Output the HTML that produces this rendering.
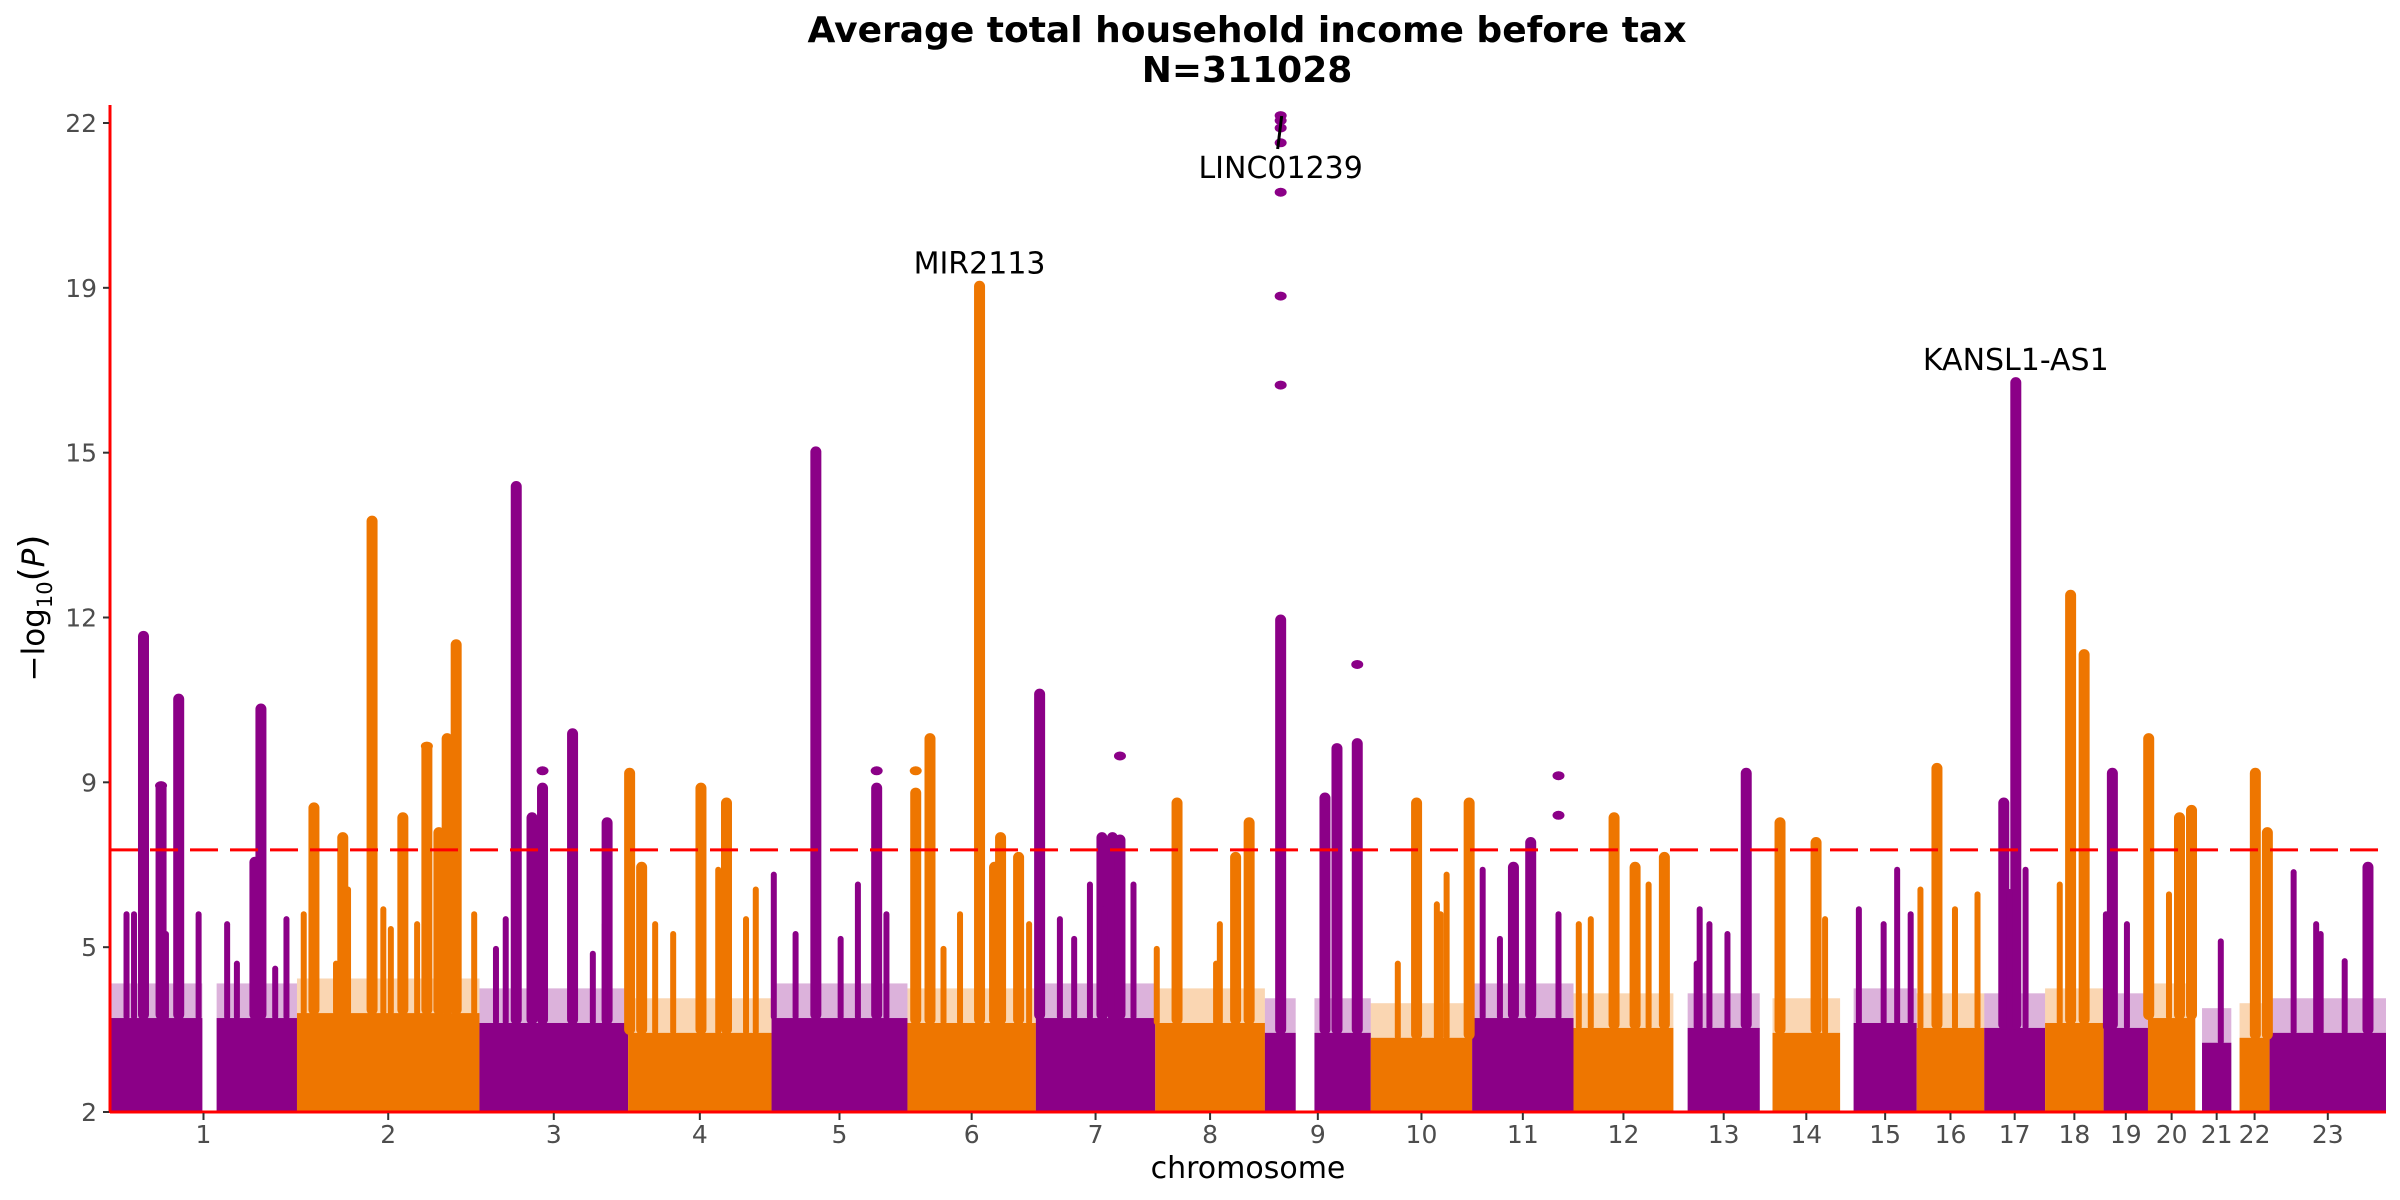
<!DOCTYPE html>
<html><head><meta charset="utf-8"><title>Manhattan plot</title>
<style>
html,body{margin:0;padding:0;background:#fff;}
svg{display:block;font-family:"DejaVu Sans","Liberation Sans",sans-serif;}
</style></head>
<body>
<svg id="chart" width="2400" height="1200" viewBox="0 0 2400 1200" xmlns="http://www.w3.org/2000/svg">
<text x="1247" y="42" text-anchor="middle" font-size="36" font-weight="bold" fill="#000">Average total household income before tax</text>
<text x="1247" y="82" text-anchor="middle" font-size="36" font-weight="bold" fill="#000">N=311028</text>
<g id="band-layer"></g>
<g id="peak-layer"></g>
<g id="dot-layer"></g>
<g id="axis-layer"></g>
<g id="label-layer"></g>
<text x="1248" y="1178" text-anchor="middle" font-size="30" fill="#000">chromosome</text>
<text transform="translate(44,608) rotate(-90)" text-anchor="middle" font-size="31" fill="#000">−log<tspan font-size="21" dy="8">10</tspan><tspan dy="-8" font-size="36">(</tspan><tspan font-style="italic">P</tspan><tspan font-size="36">)</tspan></text>
</svg>
<script>
const chromNames = ['1','2','3','4','5','6','7','8','9','10','11','12','13','14','15','16','17','18','19','20','21','22','23'];
const chromLengths = [249,243,198,191,181,171,159,146,141,135,135,133,115,107,102,90,81,78,59,63,48,51,155];
const bandHeights = [3.9,4.0,3.8,3.6,3.9,3.8,3.9,3.8,3.6,3.5,3.9,3.7,3.7,3.6,3.8,3.7,3.7,3.8,3.7,3.9,3.4,3.5,3.6];
const gapChrom = [1,9,13,14,15,21,22];
const gapStart = [123,41,0,0,0,0,0];
const gapEnd = [142,66,19,17,18,9,11];
const peakChrom = [1,1,1,1,1,1, 1,1,1,1,1,1,1,
 2,2,2,2,2,2,2,2,2, 2,2,2,2,2,2,
 3,3,3,3,3, 3,3,3,3,
 4,4,4,4,4, 4,4,4,4,
 5,5,5, 5,5,5,5,
 6,6,6,6,6, 6,6,6,6,
 7,7,7,7,7, 7,7,7,7,
 8,8,8, 8,8,8,8,
 9,9,9,9,
 10,10,10, 10,10,10,
 11,11,11,11, 11,
 12,12,12,12, 12,12,
 13,13,13, 13,13,
 14,14, 14,
 15,15,15, 15,
 16,16,16, 16,
 17,17, 17,17,
 18,18, 18,
 19, 19,19,
 20,20,20, 20,
 21,
 22,22,
 23,23,23, 23,23];
const peakPos = [44.6,68,91.5,201,193,118, 22,32,74.5,156,169,235,220,
 22.6,61,100,141,173,189,200,212,236, 9,52,68,115,125,160,
 49,70,84,124,170, 22,35,167,151,
 2,18,97,131,170, 36,60,120,157,
 59,140,115, 3,32,92,153,
 11,30,96,116,124, 48,70,148,162,
 5,88,102,112,130, 32,51,72,91,
 29,107,125, 2,81,86,127,
 21,80,96,123,
 61,88,131, 36,101,93,
 14,55,78,115, 37,
 54,82,100,121, 23,7,
 35,48,97, 72,31,
 27,75, 87,
 25,58,76, 94,
 27,51,81, 5,
 42,26, 55,34,
 34,52, 19.5,
 11.6, 3,31,
 1,42,58, 28,
 34,
 32,48,
 32,100,131, 62,68];
const peakTop = [11.67,8.6,10.4,10.2,7.1,6.0, 6.0,6.0,5.6,5.8,5.0,5.9,4.9,
 8.2,7.6,14.0,8.0,9.4,7.7,9.6,11.5,6.0, 6.0,5.0,6.5,6.1,5.7,5.8,
 14.7,8.0,8.6,9.7,7.9, 5.3,5.9,5.8,5.2,
 8.9,7.0,8.6,8.3,6.5, 5.8,5.6,6.9,5.9,
 15.4,8.6,6.6, 6.8,5.6,5.5,6.0,
 8.5,9.6,18.75,7.0,7.6, 5.3,6.0,7.2,5.8,
 10.5,7.6,7.6,7.55,6.6, 5.9,5.5,6.6,6.1,
 8.3,7.2,7.9, 5.3,5.0,5.8,6.0,
 12.0,8.4,9.4,9.5,
 8.3,6.2,8.3, 5.0,6.8,6.0,
 6.9,7.0,7.5,6.0, 5.5,
 8.0,7.0,6.6,7.2, 5.9,5.8,
 6.1,5.8,8.9, 5.6,5.0,
 7.9,7.5, 5.9,
 6.1,5.8,6.9, 6.0,
 9.0,6.1,6.4, 6.5,
 16.8,8.3, 6.9,6.45,
 12.5,11.3, 6.6,
 8.9, 6.0,5.8,
 9.6,8.0,8.15, 6.4,
 5.45,
 8.9,7.7,
 6.85,5.05,7.0, 5.8,5.6];
const dotChrom = [9,9,9,9,9,9,9, 3,5,6,7,9,11,11,1,2];
const dotPos = [21,21,21,21,21,21,21, 84,140,11,112,123,115,115,68,173];
const dotValues = [16.7,18.5,20.6,21.6,21.9,22.05,22.15, 8.9,8.9,8.9,9.2,11.05,8.8,8.0,8.6,9.4];
const labelGenes = ['MIR2113','LINC01239','KANSL1-AS1'];
const labelChrom = [6,9,17];
const labelPos = [96,21,42];
const labelTop = [18.75,22.1,16.8];
const tickValues = [2,5.333,8.667,12,15.333,18.667,22];
const tickLabels = ['2','5','9','12','15','19','22'];
const threshold = 7.3;

const NS = 'http://www.w3.org/2000/svg';
const X0 = 110, X1 = 2386, Y0 = 1112, YMIN = 2, YMAX = 22, YTOP = 123;
const totalLen = chromLengths.reduce((a,b)=>a+b,0);
const cumStart = [];
let acc = 0;
for (const L of chromLengths) { cumStart.push(acc); acc += L; }
function xScale(chrIdx, pos) { return X0 + (cumStart[chrIdx] + pos) * (X1 - X0) / totalLen; }
function yScale(v) { return Y0 - (v - YMIN) * (Y0 - YTOP) / (YMAX - YMIN); }
function colorFor(chrIdx) { return chrIdx % 2 === 0 ? '#8B0087' : '#EE7600'; }
function mk(tag, attrs, parent) {
  const el = document.createElementNS(NS, tag);
  for (const k in attrs) el.setAttribute(k, attrs[k]);
  parent.appendChild(el);
  return el;
}
function segmentsFor(i) {
  let segs = [[0, chromLengths[i]]];
  gapChrom.forEach((c, g) => {
    if (c - 1 !== i) return;
    const ns = [];
    segs.forEach(s => {
      if (gapEnd[g] <= s[0] || gapStart[g] >= s[1]) { ns.push(s); return; }
      if (gapStart[g] > s[0]) ns.push([s[0], gapStart[g]]);
      if (gapEnd[g] < s[1]) ns.push([gapEnd[g], s[1]]);
    });
    segs = ns;
  });
  return segs;
}

const bandLayer = document.getElementById('band-layer');
chromNames.forEach((name, i) => {
  const segs = segmentsFor(i);
  segs.forEach(s => {
    const xa = xScale(i, s[0]), xb = xScale(i, s[1]);
    const f = mk('rect', {x: xa, y: yScale(bandHeights[i] + 0.7), width: Math.max(0, xb - xa), height: Y0 - yScale(bandHeights[i] + 0.7), fill: colorFor(i), opacity: 0.3}, bandLayer);
    
    
    const r = mk('rect', {x: xa, y: yScale(bandHeights[i]), width: Math.max(0, xb - xa), height: Y0 - yScale(bandHeights[i]), fill: colorFor(i)}, bandLayer);
    
    
  });
});

const peakLayer = document.getElementById('peak-layer');
peakChrom.forEach((c, k) => {
  const i = c - 1;
  const top = peakTop[k];
  const major = top >= 7;
  const w = major ? 11 : 6;
  const cx = xScale(i, peakPos[k]);
  const yt = yScale(top) - 3;
  const yb = yScale(bandHeights[i]) + 2;
  const r = mk('rect', {x: cx - w / 2, y: yt, width: w, height: Math.max(0, yb - yt), rx: w / 2, fill: colorFor(i)}, peakLayer);
  
  
});

const dotLayer = document.getElementById('dot-layer');
dotChrom.forEach((c, k) => {
  const i = c - 1;
  const d = mk('ellipse', {cx: xScale(i, dotPos[k]), cy: yScale(dotValues[k]), rx: 6, ry: 4.5, fill: colorFor(i)}, dotLayer);
  
  
});

const axisLayer = document.getElementById('axis-layer');
const thr = mk('line', {x1: X0, x2: X1, y1: yScale(threshold), y2: yScale(threshold), stroke: '#FF0000', 'stroke-width': 3, 'stroke-dasharray': '28 12'}, axisLayer);


const yAxis = mk('line', {x1: X0, x2: X0, y1: 105, y2: Y0 + 1, stroke: '#FF0000', 'stroke-width': 3}, axisLayer);


const xAxis = mk('line', {x1: X0, x2: X1, y1: Y0, y2: Y0, stroke: '#FF0000', 'stroke-width': 3}, axisLayer);


tickValues.forEach((v, k) => {
  const y = yScale(v);
  const t = mk('line', {x1: X0 - 7, x2: X0 - 1, y1: y, y2: y, stroke: '#333', 'stroke-width': 2}, axisLayer);
  
  
  const tx = mk('text', {x: 97, y: y + 9, 'text-anchor': 'end', 'font-size': 25, fill: '#4d4d4d'}, axisLayer);
  tx.textContent = tickLabels[k];
  
  
});
chromNames.forEach((name, i) => {
  const segs = segmentsFor(i);
  const mid = (segs[0][0] + segs[segs.length - 1][1]) / 2;
  const x = xScale(i, mid);
  const t = mk('line', {x1: x, x2: x, y1: Y0 + 1, y2: Y0 + 8, stroke: '#333', 'stroke-width': 2}, axisLayer);
  
  
  const tx = mk('text', {x: x, y: 1143, 'text-anchor': 'middle', 'font-size': 25, fill: '#4d4d4d'}, axisLayer);
  tx.textContent = name;
  
  
});

const labelLayer = document.getElementById('label-layer');
labelGenes.forEach((g, k) => {
  const i = labelChrom[k] - 1;
  const x = xScale(i, labelPos[k]);
  const yt = yScale(labelTop[k]);
  let ty = yt - 10;
  if (g === 'LINC01239') {
    ty = 178;
    const ln = mk('line', {x1: x - 3, y1: 149, x2: x + 1, y2: 116, stroke: '#000', 'stroke-width': 3}, labelLayer);
    
    
  }
  const tx = mk('text', {x: x, y: ty, 'text-anchor': 'middle', 'font-size': 30, fill: '#000'}, labelLayer);
  tx.textContent = g;
  
  
});
</script>
</body></html>
